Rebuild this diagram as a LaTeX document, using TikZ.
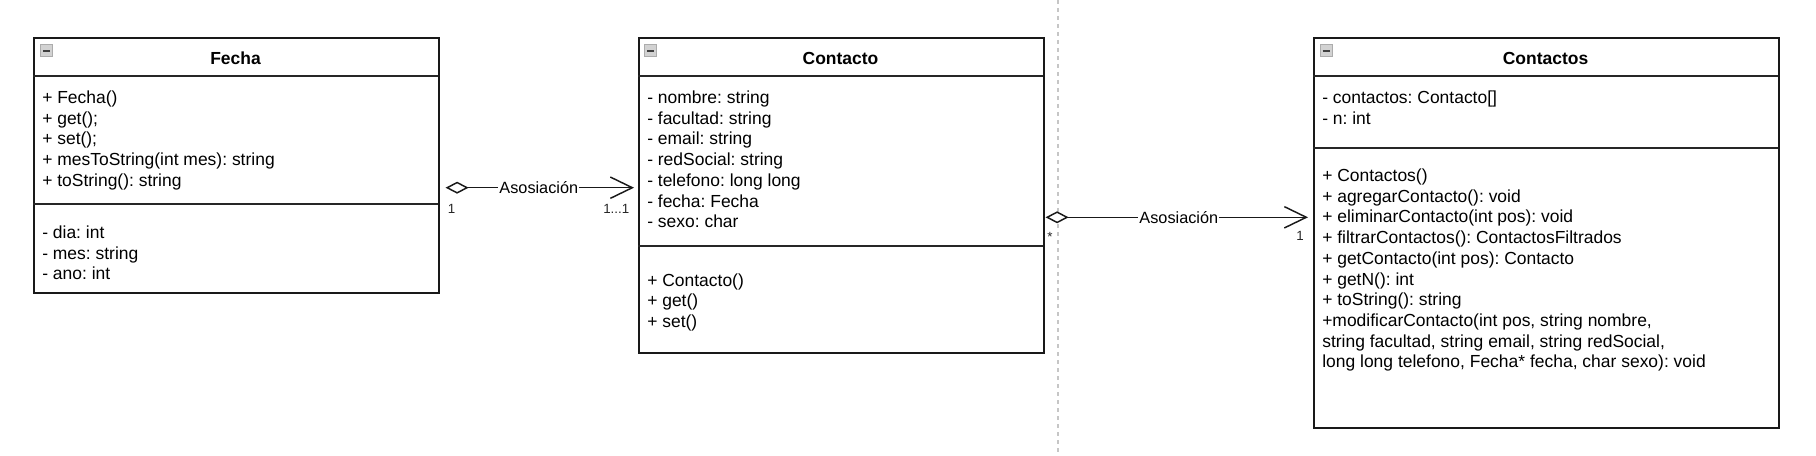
\documentclass[tikz,border=0pt]{standalone}
\usepackage{fontspec}
\setmainfont{Liberation Sans}
\usetikzlibrary{arrows.meta}
\frenchspacing
\begin{document}
\begin{tikzpicture}[x=0.75pt,y=-0.75pt,
  box/.style={draw=black!90, line width=1.2pt, fill=white, inner sep=0pt, anchor=north west},
  sepline/.style={draw=black!85, line width=1.2pt},
  title/.style={font=\fontsize{13.1pt}{15pt}\selectfont\bfseries, anchor=base, inner sep=0pt},
  member/.style={font=\fontsize{13.1pt}{15pt}\selectfont, anchor=base west, inner sep=0pt},
  icon/.style={rectangle, anchor=north west, draw=gray!65, fill=gray!35, line width=0.7pt,
    minimum width=9.3pt, minimum height=8.8pt, inner sep=0pt,
    path picture={\draw[black!75, line width=1.4pt]
      ([xshift=1.9pt]path picture bounding box.west) -- ([xshift=-1.9pt]path picture bounding box.east);}},
  assoc/.style={draw=black!90, line width=1.1pt,
    {Diamond[length=17.25pt, width=9pt, fill=white]}-{Straight Barb[length=16.5pt, width=16pt]}},
  elabel/.style={font=\fontsize{12.2pt}{14pt}\selectfont, fill=white, inner sep=1pt, midway},
  mult/.style={font=\fontsize{10pt}{12pt}\selectfont, inner sep=0pt, text=black!85},
  divider/.style={draw=gray!45, line width=0.9pt, dash pattern=on 3pt off 3pt}
]
\useasboundingbox (0,0) rectangle (1816,456);

% divider
\draw[divider] (1058,0) -- (1058,456);

% Fecha
\node[box, minimum width=303.75pt, minimum height=191.25pt] (fecha) at (33,37) {};
\draw[sepline] (33,76) -- (438,76);
\draw[sepline] (33,204) -- (438,204);
\node[icon] (fechaicon) at (40,44.5) {};
\node[title] (fechatitle) at (235.5,65) {Fecha};
\foreach \s [count=\i] in {{+ Fecha()},{+ get();},{+ set();},{+ mesToString(int mes): string},{+ toString(): string}}
  \node[member] (fm\i) at (42,103.5+20.7*\i-20.7) {\s};
\foreach \s [count=\i] in {{- dia: int},{- mes: string},{- ano: int}}
  \node[member] (fa\i) at (42,238.3+20.7*\i-20.7) {\s};

% Contacto
\node[box, minimum width=303.75pt, minimum height=236.25pt] (contacto) at (638,37) {};
\draw[sepline] (638,76) -- (1043,76);
\draw[sepline] (638,246) -- (1043,246);
\node[icon] (contactoicon) at (644,44.5) {};
\node[title] (contactotitle) at (840.5,65) {Contacto};
\foreach \s [count=\i] in {{- nombre: string},{- facultad: string},{- email: string},{- redSocial: string},{- telefono: long long},{- fecha: Fecha},{- sexo: char}}
  \node[member] (ca\i) at (647,103.5+20.7*\i-20.7) {\s};
\foreach \s [count=\i] in {{+ Contacto()},{+ get()},{+ set()}}
  \node[member] (cm\i) at (647,286+20.7*\i-20.7) {\s};

% Contactos
\node[box, minimum width=348.75pt, minimum height=292.5pt] (contactos) at (1313,37) {};
\draw[sepline] (1313,76) -- (1778,76);
\draw[sepline] (1313,148) -- (1778,148);
\node[icon] (contactosicon) at (1319.5,44.5) {};
\node[title] (contactostitle) at (1545.5,65) {Contactos};
\foreach \s [count=\i] in {{- contactos: Contacto[]},{- n: int}}
  \node[member] (sa\i) at (1322,103.5+20.7*\i-20.7) {\s};
\foreach \s [count=\i] in {{+ Contactos()},{+ agregarContacto(): void},{+ eliminarContacto(int pos): void},{+ filtrarContactos(): ContactosFiltrados},{+ getContacto(int pos): Contacto},{+ getN(): int},{+ toString(): string},{+modificarContacto(int pos, string nombre,},{string facultad, string email, string redSocial,},{long long telefono, Fecha* fecha, char sexo): void}}
  \node[member] (sm\i) at (1322,181.5+20.7*\i-20.7) {\s};

% connectors
\coordinate (ya) at (0,187.7);
\coordinate (yb) at (0,217.3);
\draw[assoc, shorten <=4.5pt, shorten >=3pt] (fecha.east |- ya) -- node[elabel] (l1) {Asosiación} (contacto.west |- ya);
\draw[assoc, shorten <=0.75pt, shorten >=3.75pt] (contacto.east |- yb) -- node[elabel] (l2) {Asosiación} (contactos.west |- yb);

% multiplicities
\node[mult, anchor=base] (m1a) at (451.5,213) {1};
\node[mult, anchor=base east] (m1b) at (629.5,213) {1...1};
\node[mult, anchor=base] (m2a) at (1050,241) {*};
\node[mult, anchor=base] (m2b) at (1300,240) {1};
\end{tikzpicture}
\end{document}
